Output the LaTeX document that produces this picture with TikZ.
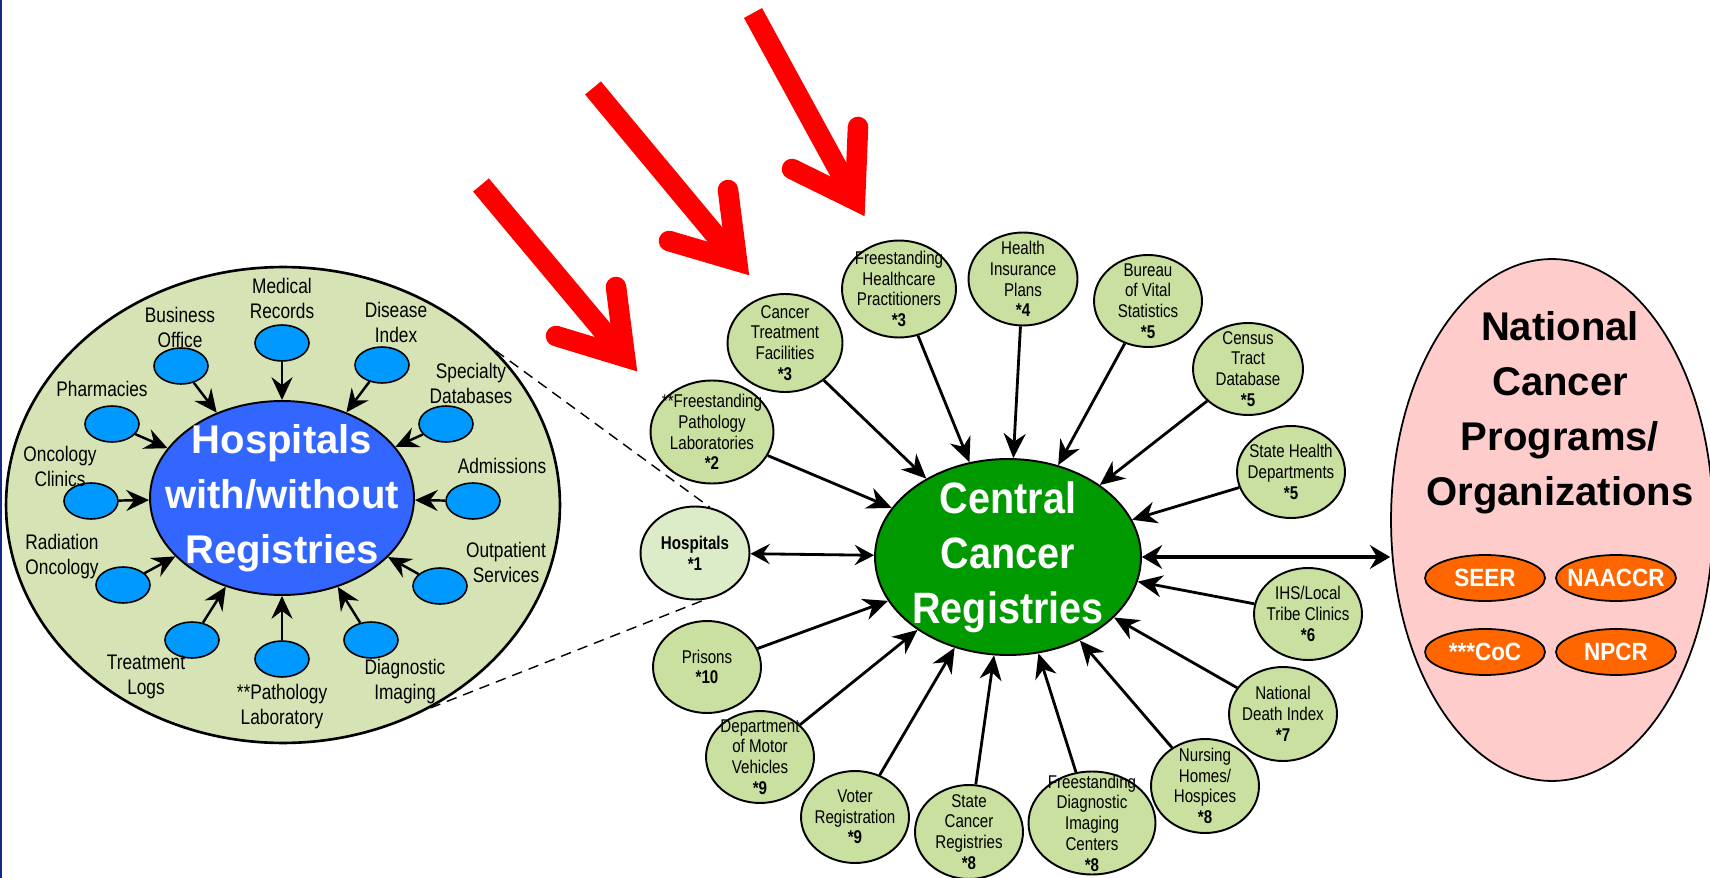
\documentclass[tikz,border=0pt]{standalone}
\usepackage{fontspec}
\setmainfont{Liberation Sans}
\newfontfamily\narrowfont{Liberation Sans}[FakeStretch=0.82]
\newfontfamily\semifont{Liberation Sans}[FakeStretch=0.9]
\usetikzlibrary{shapes.geometric, arrows.meta}

\definecolor{hospgreen}{RGB}{214,228,181}
\definecolor{satgreen}{RGB}{202,224,160}
\definecolor{hospone}{RGB}{220,235,200}
\definecolor{hospblue}{RGB}{51,102,255}
\definecolor{srcblue}{RGB}{0,153,255}
\definecolor{ccrgreen}{RGB}{0,153,0}
\definecolor{natpink}{RGB}{255,204,204}
\definecolor{orgorange}{RGB}{255,102,0}
\definecolor{pointred}{RGB}{255,0,0}
\definecolor{edgenavy}{RGB}{20,40,140}

\begin{document}
\begin{tikzpicture}[x=0.02cm, y=-0.02cm, node distance=2.62cm]
\tikzstyle{bigoval} = [ellipse, draw=black, line width=1.5pt, fill=hospgreen, minimum width=11.08cm, minimum height=9.52cm]
\tikzstyle{hospoval} = [ellipse, draw=black, line width=1.1pt, fill=hospblue, minimum width=5.28cm, minimum height=3.88cm, inner sep=-40pt, align=center, text=white, font=\bfseries\fontsize{22.8}{31.3}\selectfont]
\tikzstyle{src} = [ellipse, draw=black, line width=0.9pt, fill=srcblue, minimum width=1.08cm, minimum height=0.72cm]
\tikzstyle{srclabel} = [align=center, inner sep=0pt, font=\narrowfont\fontsize{12}{14.2}\selectfont]
\tikzstyle{sat} = [ellipse, draw=black, line width=1.1pt, fill=satgreen, minimum width=2.16cm, minimum height=1.84cm, inner sep=-10pt, align=center, font=\narrowfont\fontsize{10.5}{11.8}\selectfont]
\tikzstyle{ccrstyle} = [ellipse, draw=black, line width=1.1pt, fill=ccrgreen, minimum width=5.32cm, minimum height=3.92cm, inner sep=-30pt, align=center, text=white, font=\semifont\bfseries\fontsize{25}{31.3}\selectfont]
\tikzstyle{natl} = [ellipse, draw=black, line width=1pt, fill=natpink, minimum width=6.44cm, minimum height=10.44cm]
\tikzstyle{natltext} = [align=center, inner sep=0pt, font=\bfseries\fontsize{22.8}{31.3}\selectfont]
\tikzstyle{org} = [ellipse, draw=black, line width=1pt, fill=orgorange, minimum width=2.4cm, minimum height=0.92cm, inner sep=-5pt, text=white, font=\semifont\bfseries\fontsize{14.2}{16}\selectfont]

\tikzstyle{arrow} = [line width=1.6pt, -{Stealth[length=14pt, width=12.5pt, inset=4.5pt]}]
\tikzstyle{inarrow} = [line width=1.4pt, -{Stealth[length=13pt, width=12pt, inset=4.5pt]}]
\tikzstyle{darrow} = [line width=1.6pt, {Stealth[length=11pt, width=11.5pt, inset=4pt]}-{Stealth[length=11pt, width=11.5pt, inset=4pt]}]
\tikzstyle{bigarrow} = [line width=2.3pt, {Stealth[length=11.5pt, width=13.5pt, inset=4pt]}-{Stealth[length=11.5pt, width=13.5pt, inset=4pt]}]
\tikzstyle{pointer} = [line width=11.7pt, draw=pointred]

\useasboundingbox[fill=white] (0,0) rectangle (1710,878);
\draw[edgenavy, line width=1.2pt] (1,0) -- (1,878);

% hospital side
\node (bigL) [bigoval] at (283,505) {};
\node (hosp) [hospoval] at (282,498) {Hospitals\\with/without\\Registries};

\node (bo) [src] at (181,366) {};
\node (mr) [src] at (282,343) {};
\node (di) [src] at (382,365) {};
\node (ph) [src] at (112,424) {};
\node (sd) [src] at (446,424) {};
\node (oc) [src] at (91,501) {};
\node (adm) [src] at (473,501) {};
\node (ro) [src] at (123,585) {};
\node (os) [src] at (440,586) {};
\node (tl) [src] at (192,640) {};
\node (pl) [src] at (282,659) {};
\node (dim) [src] at (371,640) {};

\node (bolbl) [srclabel] at (180,327) {Business\\Office};
\node (mrlbl) [srclabel] at (282,298) {Medical\\Records};
\node (dilbl) [srclabel] at (396,322) {Disease\\Index};
\node (phlbl) [srclabel] at (102,389) {Pharmacies};
\node (sdlbl) [srclabel] at (471,383) {Specialty\\Databases};
\node (oclbl) [srclabel] at (60,466) {Oncology\\Clinics};
\node (admlbl) [srclabel] at (502,466) {Admissions};
\node (rolbl) [srclabel] at (62,557) {Radiation\\Oncology};
\node (oslbl) [srclabel] at (506,562) {Outpatient\\Services};
\node (tllbl) [srclabel] at (146,677) {Treatment\\Logs};
\node (pllbl) [srclabel] at (282,707) {**Pathology\\Laboratory};
\node (dimlbl) [srclabel] at (405,682) {Diagnostic\\Imaging};

\draw [inarrow] (bo) -- (hosp);
\draw [inarrow] (mr) -- (hosp);
\draw [inarrow] (di) -- (hosp);
\draw [inarrow] (ph) -- (hosp);
\draw [inarrow] (sd) -- (hosp);
\draw [inarrow] (oc) -- (hosp);
\draw [inarrow] (adm) -- (hosp);
\draw [inarrow] (ro) -- (hosp);
\draw [inarrow] (os) -- (hosp);
\draw [inarrow] (tl) -- (hosp);
\draw [inarrow] (pl) -- (hosp);
\draw [inarrow] (dim) -- (hosp);

% central registries and sources
\node (ccr) [ccrstyle] at (1008,557) {Central\\Cancer\\Registries};

\node (hosp1) [sat, fill=hospone, minimum width=2.18cm, minimum height=1.86cm] at (695,553) {\textbf{Hospitals}\\\textbf{*1}};
\node (path) [sat, minimum width=2.46cm, minimum height=2.06cm] at (712,432) {**Freestanding\\Pathology\\Laboratories\\\textbf{*2}};
\node (ctf) [sat, minimum width=2.3cm, minimum height=1.96cm] at (785,343) {Cancer\\Treatment\\Facilities\\\textbf{*3}};
\node (fhp) [sat, minimum width=2.28cm, minimum height=1.94cm] at (899,289) {Freestanding\\Healthcare\\Practitioners\\\textbf{*3}};
\node (hip) [sat, minimum width=2.18cm, minimum height=1.86cm] at (1023,279) {Health\\Insurance\\Plans\\\textbf{*4}};
\node (bvs) [sat] at (1148,301) {Bureau\\of Vital\\Statistics\\\textbf{*5}};
\node (ctd) [sat, minimum width=2.2cm] at (1248,369) {Census\\Tract\\Database\\\textbf{*5}};
\node (shd) [sat] at (1291,472) {State Health\\Departments\\\textbf{*5}};
\node (ihs) [sat] at (1308,614) {IHS/Local\\Tribe Clinics\\\textbf{*6}};
\node (ndi) [sat, minimum height=1.88cm] at (1283,714) {National\\Death Index\\\textbf{*7}};
\node (nhh) [sat, minimum height=1.88cm] at (1205,786) {Nursing\\Homes/\\Hospices\\\textbf{*8}};
\node (fdi) [sat, minimum width=2.54cm, minimum height=2.06cm] at (1092,823) {Freestanding\\Diagnostic\\Imaging\\Centers\\\textbf{*8}};
\node (scr) [sat, minimum height=1.88cm] at (969,832) {State\\Cancer\\Registries\\\textbf{*8}};
\node (vr) [sat] at (855,817) {Voter\\Registration\\\textbf{*9}};
\node (dmv) [sat] at (760,757) {Department\\of Motor\\Vehicles\\\textbf{*9}};
\node (pris) [sat] at (707,667) {Prisons\\\textbf{*10}};

\draw [dashed, line width=0.8pt, dash pattern=on 6pt off 4pt] (bigL.36) -- (hosp1.72);
\draw [dashed, line width=0.8pt, dash pattern=on 6pt off 4pt] (bigL.-54) -- (hosp1.-78);

\draw [darrow] (hosp1) -- (ccr);
\draw [arrow] (path) -- (ccr);
\draw [arrow] (ctf) -- (ccr);
\draw [arrow] (fhp) -- (ccr);
\draw [arrow] (hip) -- (ccr);
\draw [arrow] (bvs) -- (ccr);
\draw [arrow] (ctd) -- (ccr);
\draw [arrow] (shd) -- (ccr);
\draw [arrow] (ihs) -- (ccr);
\draw [arrow] (ndi) -- (ccr);
\draw [arrow] (nhh) -- (ccr);
\draw [arrow] (fdi) -- (ccr);
\draw [arrow] (scr) -- (ccr);
\draw [arrow] (vr) -- (ccr);
\draw [arrow] (dmv) -- (ccr);
\draw [arrow] (pris) -- (ccr);

% national programs
\node (natl) [natl] at (1552,520) {};
\node (natltitle) [natltext] at (1560,413) {National\\Cancer\\Programs/\\Organizations};
\node (seer) [org] at (1485,578) {SEER};
\node (naaccr) [org, right of=seer] {NAACCR};
\node (coc) [org, below of=seer, node distance=1.48cm] {***CoC};
\node (npcr) [org, right of=coc] {NPCR};

\draw [bigarrow] (ccr.east) -- (ccr.east -| natl.west);

% red pointers
\draw [pointer, line cap=butt] (481,185) -- (625,357);
\draw [pointer, line cap=round, line join=miter] (616,287) -- (625,357) -- (556,336);
\draw [pointer, line cap=butt] (593,88) -- (737,261);
\draw [pointer, line cap=round, line join=miter] (728,190) -- (737,261) -- (669,241);
\draw [pointer, line cap=butt] (753,13) -- (855,200);
\draw [pointer, line cap=round, line join=miter] (858,127) -- (855,200) -- (792,169);

\end{tikzpicture}
\end{document}
